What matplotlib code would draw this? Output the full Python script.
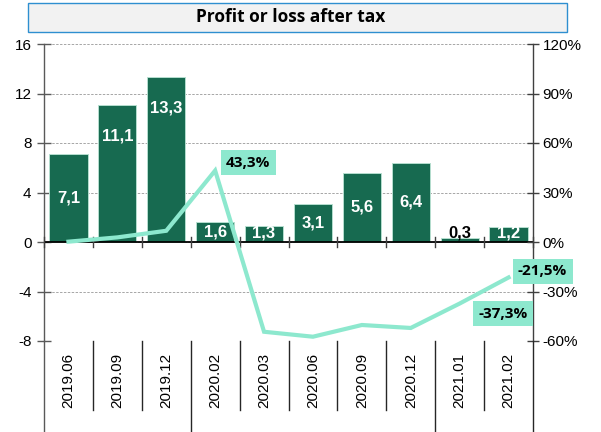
import matplotlib
matplotlib.use('Agg')
import matplotlib.pyplot as plt
from matplotlib.patches import Rectangle
from matplotlib.lines import Line2D
from matplotlib import transforms

# ---- data ----
categories = ['2019.06', '2019.09', '2019.12', '2020.02', '2020.03',
              '2020.06', '2020.09', '2020.12', '2021.01', '2021.02']
profit = [7.1, 11.1, 13.3, 1.6, 1.3, 3.1, 5.6, 6.4, 0.3, 1.2]
growth = [0.2, 2.8, 6.8, 43.3, -54.4, -57.4, -50.3, -52.1, -37.3, -21.5]
labeled_points = [3, 8, 9]
left_ticks = [-8, -4, 0, 4, 8, 12, 16]
right_ticks = [-60, -30, 0, 30, 60, 90, 120]
title = 'Profit or loss after tax'

# ---- style ----
W, H, DPI = 601, 432, 100
BAR_C = '#176A50'
LINE_C = '#8DE8CE'
label_offsets = {3: (33, 8), 8: (43, -10), 9: (34, 6)}

fig = plt.figure(figsize=(W / DPI, H / DPI), dpi=DPI)
fig.patch.set_facecolor('white')

L, R, T, B = 44, 533, 44, 341
ax = fig.add_axes([L / W, 1 - B / H, (R - L) / W, (B - T) / H])
n = len(categories)
x = list(range(n))

ax.bar(x, profit, width=0.78, color=BAR_C, edgecolor='#B5DECF', linewidth=0.7, zorder=2)
ax.set_xlim(-0.5, n - 0.5)
ax.set_ylim(left_ticks[0], left_ticks[-1])
ax.set_yticks(left_ticks)
ax.set_yticklabels([str(v) for v in left_ticks], fontfamily='Liberation Sans', fontsize=11)
ax.yaxis.grid(True, linestyle=(0, (2.5, 1.5)), color='#A6A6A6', linewidth=0.7)
ax.set_axisbelow(True)
ax.set_xticks([])
for s in ['top', 'bottom', 'right']:
    ax.spines[s].set_visible(False)
ax.spines['left'].set_color('#595959')
ax.spines['left'].set_linewidth(1.0)
ax.tick_params(axis='y', direction='inout', length=10, width=1, color='#595959', pad=4)
ax.axhline(0, color='black', linewidth=1.3, zorder=3)

# tick marks on the zero line at category boundaries
tpx = 5 / ((B - T) / (left_ticks[-1] - left_ticks[0]))
for i in range(n + 1):
    b = i - 0.5
    ax.plot([b, b], [-tpx, tpx], color='#404040', linewidth=1.0, zorder=3, clip_on=False)

# bar labels
for i, v in enumerate(profit):
    y = v - 2.5 if v > 8 else max(v / 2, 0.7)
    col = 'black' if v < 0.5 else 'white'
    ax.text(i, y, f'{v:.1f}'.replace('.', ','), ha='center', va='center', color=col,
            fontsize=12, fontweight='bold', fontfamily='Liberation Sans', zorder=4)

# secondary axis
ax2 = ax.twinx()
ax2.set_ylim(right_ticks[0], right_ticks[-1])
ax2.set_yticks(right_ticks)
ax2.set_yticklabels([f'{v}%' for v in right_ticks], fontfamily='Liberation Sans', fontsize=11)
for s in ['top', 'bottom', 'left']:
    ax2.spines[s].set_visible(False)
ax2.spines['right'].set_color('#404040')
ax2.spines['right'].set_linewidth(1.0)
ax2.tick_params(axis='y', direction='inout', length=8, width=1, color='#404040', pad=3)

ax2.plot(x, growth, color=LINE_C, linewidth=3.0, solid_joinstyle='miter', zorder=5)
for i in labeled_points:
    v = growth[i]
    ax2.annotate(f'{v:.1f}%'.replace('.', ','), xy=(i, v), xytext=label_offsets[i],
                 textcoords='offset pixels', ha='center', va='center',
                 fontsize=11, fontweight='bold', fontfamily='Open Sans', color='black',
                 bbox=dict(boxstyle='square,pad=0.35', fc=LINE_C, ec='none'), zorder=6)

# category axis below plot
tr = transforms.blended_transform_factory(ax.transData, fig.transFigure)
y_top = 1 - B / H
y_short = 1 - 410 / H
group_bounds = [i - 0.5 for i in range(1, n) if categories[i][:4] != categories[i - 1][:4]]
for i in range(n + 1):
    b = i - 0.5
    long_line = (i == 0) or (i == n) or (b in group_bounds)
    y_end = 0 if long_line else y_short
    col = '#595959' if i == 0 else '#262626'
    fig.add_artist(Line2D([b, b], [y_top, y_end], transform=tr, color=col, linewidth=1.0))
for i, c in enumerate(categories):
    ax.text(i, 1 - 380 / H, c, transform=tr, rotation=90, ha='center', va='center',
            fontsize=11, fontfamily='Liberation Sans', color='black')

# title box
fig.add_artist(Rectangle((28 / W, 1 - 32 / H), 539 / W, 29 / H, transform=fig.transFigure,
                         facecolor='#F2F2F2', edgecolor='#2E8FD0', linewidth=1.0))
fig.text(291 / W, 1 - 17.5 / H, title, ha='center', va='center', fontsize=12.5,
         fontweight='bold', fontfamily='Open Sans', color='black')

fig.savefig('out.png', dpi=DPI)
